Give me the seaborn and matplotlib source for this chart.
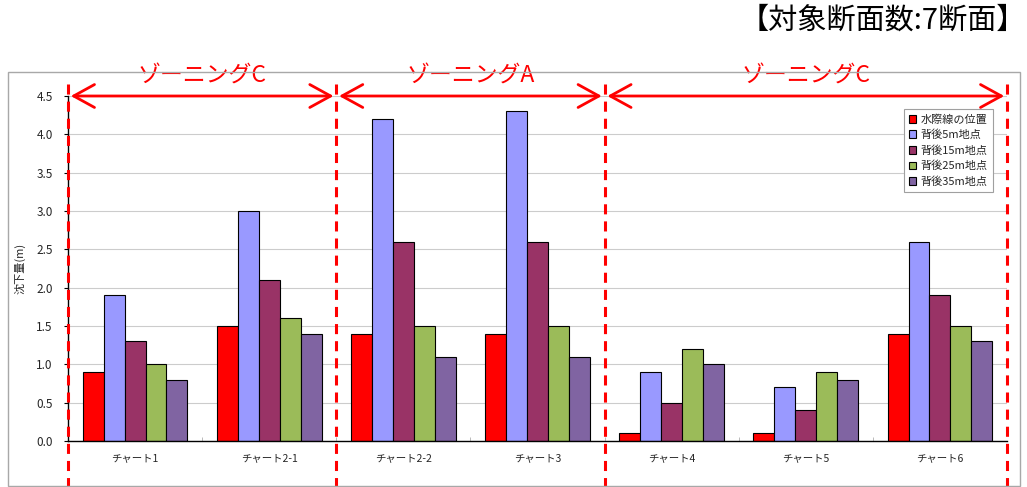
import matplotlib
matplotlib.use("Agg")
import matplotlib.pyplot as plt
from matplotlib.patches import FancyArrowPatch, Rectangle
from matplotlib.lines import Line2D
from matplotlib.transforms import blended_transform_factory
import pandas as pd
import seaborn as sns

# --- data ---------------------------------------------------------------
sections = ["チャート1", "チャート2-1", "チャート2-2", "チャート3", "チャート4", "チャート5", "チャート6"]
series_names = ["水際線の位置", "背後5m地点", "背後15m地点", "背後25m地点", "背後35m地点"]
waterline = [0.9, 1.5, 1.4, 1.4, 0.1, 0.1, 1.4]
back_5m = [1.9, 3.0, 4.2, 4.3, 0.9, 0.7, 2.6]
back_15m = [1.3, 2.1, 2.6, 2.6, 0.5, 0.4, 1.9]
back_25m = [1.0, 1.6, 1.5, 1.5, 1.2, 0.9, 1.5]
back_35m = [0.8, 1.4, 1.1, 1.1, 1.0, 0.8, 1.3]
y_ticks = [0.0, 0.5, 1.0, 1.5, 2.0, 2.5, 3.0, 3.5, 4.0, 4.5]

zone_labels = ["ゾーニングC", "ゾーニングA", "ゾーニングC"]
zone_bounds = [(-0.5, 1.5), (1.5, 3.5), (3.5, 6.5)]

colors = ["#FF0000", "#9999FF", "#993366", "#9BBB59", "#8064A2"]

values = [waterline, back_5m, back_15m, back_25m, back_35m]
df = pd.DataFrame(
    [(sec, name, v)
     for name, vals in zip(series_names, values)
     for sec, v in zip(sections, vals)],
    columns=["断面", "地点", "沈下量"],
)

# --- style --------------------------------------------------------------
sns.set_style("white")
plt.rcParams["font.family"] = ["Noto Sans CJK JP", "DejaVu Sans"]

fig = plt.figure(figsize=(10.27, 4.87), dpi=100)
ax = fig.add_axes([68 / 1027, 1 - 441 / 487, (1007 - 68) / 1027, (441 - 96) / 487])

sns.barplot(
    data=df, x="断面", y="沈下量", hue="地点",
    palette=colors, width=0.78, edgecolor="black", linewidth=0.8,
    saturation=1, ax=ax,
)

ax.set_xlim(-0.5, 6.5)
ax.set_ylim(0, 4.5)
ax.set_yticks(y_ticks)
ax.set_yticklabels([f"{t:.1f}" for t in y_ticks], fontsize=8.5)
ax.yaxis.grid(True, color="#CCCCCC", linewidth=0.8)
ax.set_axisbelow(True)
ax.tick_params(axis="x", length=0, labelsize=7.5, pad=9)
ax.tick_params(axis="y", length=3, color="black", labelsize=8.5, left=True, pad=8)
ax.set_xticks([i + 0.5 for i in range(6)], minor=True)
ax.tick_params(axis="x", which="minor", direction="in", length=3, color="#B0B0B0", bottom=True)
ax.set_xlabel("")
ax.set_ylabel("沈下量(m)", fontsize=8, labelpad=8)
for side in ("top", "right"):
    ax.spines[side].set_visible(False)
for side in ("left", "bottom"):
    ax.spines[side].set_color("black")
    ax.spines[side].set_linewidth(1.0)

leg = ax.legend(
    loc="upper right", bbox_to_anchor=(0.985, 0.962), fontsize=8,
    frameon=True, fancybox=False, edgecolor="#A0A0A0", framealpha=1,
    handlelength=0.7, handleheight=0.7, handletextpad=0.4,
    labelspacing=0.45, borderpad=0.45, borderaxespad=0,
)
leg.get_frame().set_linewidth(0.8)
for h in leg.legend_handles:
    h.set_edgecolor("black")
    h.set_linewidth(0.8)

# outer chart frame
fig.patches.append(Rectangle((8 / 1027, 1 / 487), (1020 - 8) / 1027, (486 - 72) / 487,
                             transform=fig.transFigure, fill=False,
                             edgecolor="#A8A8A8", linewidth=1.0, zorder=0))

# zone boundaries, arrows and labels
trans = blended_transform_factory(ax.transData, fig.transFigure)
bounds = sorted({b for pair in zone_bounds for b in pair})
for xb in bounds:
    ax.add_line(Line2D([xb, xb], [1 - 84 / 487, 0], transform=trans, color="#FF0000",
                       linewidth=2.2, linestyle=(0, (3.3, 2.3)), clip_on=False, zorder=6))

for (x0, x1), label in zip(zone_bounds, zone_labels):
    arr = FancyArrowPatch((x0, 4.5), (x1, 4.5), arrowstyle="<->,head_length=1.0,head_width=0.55",
                          mutation_scale=15, color="#FF0000", linewidth=2.0,
                          shrinkA=2, shrinkB=2, clip_on=False, zorder=6)
    ax.add_patch(arr)
    ax.text((x0 + x1) / 2, 4.76, label, color="#FF0000", fontsize=16.5,
            ha="center", va="center", clip_on=False)

fig.text(1026 / 1027, 1 - 21 / 487, "【対象断面数:7断面】", fontsize=21,
         ha="right", va="center", color="black")

fig.savefig("out.png", dpi=100)
